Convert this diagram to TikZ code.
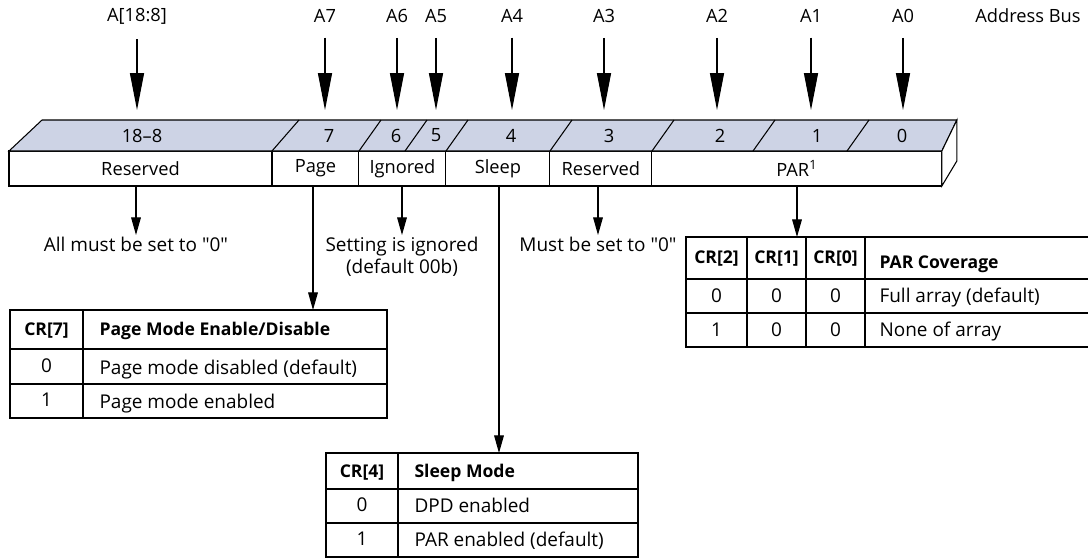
\documentclass[tikz,border=0pt]{standalone}
\usepackage{fontspec}
\setmainfont{Open Sans}[Ligatures=TeXOff]
\usetikzlibrary{arrows.meta,positioning,calc}
\definecolor{regtop}{HTML}{CDD3E5}

\begin{document}
\begin{tikzpicture}[
  x=0.02cm, y=-0.02cm,
  font=\fontsize{10.4}{12.5}\selectfont,
  line width=0.6pt,
  cell/.style={draw, fill=white, minimum height=0.7cm, inner sep=0pt, outer sep=0pt},
  note/.style={align=center, inner sep=1pt, anchor=north, font=\fontsize{10.8}{12.5}\selectfont},
  busarr/.style={-{Triangle[length=21pt, width=8pt]}, shorten <=5pt},
  arr/.style={-{Triangle[length=10pt, width=5.5pt]}},
  tab/.style={line width=0.7pt},
  ttxt/.style={inner sep=0pt, text height=1.6ex, text depth=0.3ex, font=\fontsize{10.8}{12.5}\selectfont},
  thead/.style={ttxt, font=\fontsize{10}{12}\bfseries}
]
\useasboundingbox (0,0) rectangle (1088,559);

% front face of the register
\node[cell, minimum width=5.26cm] (rsvH) at (140.5,168.5) {Reserved};
\node[cell, minimum width=1.74cm, right=0pt of rsvH] (page) {Page};
\node[cell, minimum width=1.74cm, right=0pt of page] (ign) {Ignored};
\node[cell, minimum width=2.08cm, right=0pt of ign] (slp) {Sleep};
\node[cell, minimum width=2.04cm, right=0pt of slp] (rsvL) {Reserved};
\node[cell, minimum width=5.8cm, right=0pt of rsvL] (par) {PAR\textsuperscript{1}};

% top and side faces
\filldraw[fill=regtop] (rsvH.north west) -- ++(33,-31) -- ($(par.north east)+(15,-31)$)
  -- (par.north east) -- cycle;
\filldraw[fill=white] (par.north east) -- ++(15,-31) -- ++(0,41) -- (par.south east) -- cycle;
\foreach \b/\t in {272/299, 359/381, 405/427, 446/468, 550/572, 652/674, 753/775, 847/869}
  \draw (\b,151) -- (\t,120);
\foreach \x/\t [count=\i] in {142/18–8, 329/7, 396/6, 436/5, 511/4, 609/3, 720/2, 817/1, 902/0}
  \node (top\i) at (\x,135.5) {\t};

% address bus
\foreach \x/\t/\n in {137/{A[18:8]}/ah, 325/A7/a7, 397/A6/a6, 436/A5/a5, 512/A4/a4,
    604/A3/a3, 717/A2/a2, 811/A1/a1, 903/A0/a0} {
  \node (\n) at (\x,16) {\t};
  \coordinate (\n tip) at (\x,110);
  \draw[busarr] (\n) -- (\n tip);
}
\node[anchor=east] (bus) at (1087,16) {Address Bus};

% notes below the register
\node[note] (n1) at (136,235) {All must be set to "0"};
\node[note] (n2) at (402,235) {Setting is ignored\\(default 00b)};
\node[note] (n3) at (598,235) {Must be set to "0"};
\draw[arr] (n1 |- rsvH.south) -- (n1);
\draw[arr] (n2 |- ign.south) -- (n2);
\draw[arr] (n3 |- rsvL.south) -- (n3);

% page mode table
\coordinate (pgtop) at (313,310);
\draw[arr] (pgtop |- page.south) -- (pgtop);
\draw[tab] (10,310) rectangle (387,418);
\draw[tab] (83,310) -- (83,418) (10,349) -- (387,349) (10,384) -- (387,384);
\node[thead] (pg0) at (46.5,329.5) {CR[7]};
\node[thead, anchor=west] (pg1) at (99,329.5) {Page Mode Enable/Disable};
\node[ttxt] (pg2) at (46.5,366.5) {0};
\node[ttxt, anchor=west] (pg3) at (99,368) {Page mode disabled (default)};
\node[ttxt] (pg4) at (46.5,400) {1};
\node[ttxt, anchor=west] (pg5) at (99,402) {Page mode enabled};

% sleep mode table
\coordinate (sltop) at (499,453);
\draw[arr] (sltop |- slp.south) -- (sltop);
\draw[tab] (326,453) rectangle (638,557);
\draw[tab] (398,453) -- (398,557) (326,489) -- (638,489) (326,523) -- (638,523);
\node[thead] (sl0) at (362,471) {CR[4]};
\node[thead, anchor=west] (sl1) at (414,471) {Sleep Mode};
\node[ttxt] (sl2) at (362,505) {0};
\node[ttxt, anchor=west] (sl3) at (414,506) {DPD enabled};
\node[ttxt] (sl4) at (362,539) {1};
\node[ttxt, anchor=west] (sl5) at (414,540) {PAR enabled (default)};

% PAR coverage table
\coordinate (prtop) at (797,237);
\draw[arr] (prtop |- par.south) -- (prtop);
\draw[tab] (1089,237) -- (686,237) -- (686,347) -- (1089,347);
\draw[tab] (747,237) -- (747,347) (806,237) -- (806,347) (865,237) -- (865,347)
  (686,279) -- (1089,279) (686,313) -- (1089,313);
\node[thead] (pr0) at (716.5,257) {CR[2]};
\node[thead] (pr1) at (776.5,257) {CR[1]};
\node[thead] (pr2) at (835.5,257) {CR[0]};
\node[thead, anchor=west] (pr3) at (879,262) {PAR Coverage};
\foreach \x in {716.5, 776.5, 835.5}
  \node[ttxt] at (\x,296) {0};
\node[ttxt] (pr4) at (716.5,330) {1};
\node[ttxt] (pr5) at (776.5,330) {0};
\node[ttxt] (pr6) at (835.5,330) {0};
\node[ttxt, anchor=west] (pr7) at (879,296) {Full array (default)};
\node[ttxt, anchor=west] (pr8) at (879,330) {None of array};
\end{tikzpicture}
\end{document}
